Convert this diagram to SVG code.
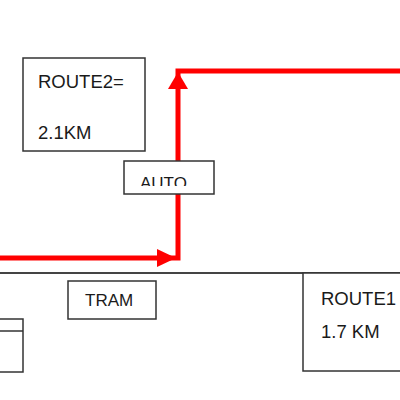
<svg xmlns="http://www.w3.org/2000/svg" width="400" height="400" viewBox="0 0 400 400">
<style>
.box{fill:#fff;stroke:#333;stroke-width:1.5}
.t{font-family:"Liberation Sans",Arial,sans-serif;font-size:17px;fill:#1a1a1a}
.big{font-size:18.5px}
.red{fill:none;stroke:#f00;stroke-width:5;stroke-linejoin:miter}
.ah{fill:#f00}
</style>
<defs>
<clipPath id="autoclip"><rect x="124" y="161" width="90" height="25"/></clipPath>
</defs>
<rect width="400" height="400" fill="#fff"/>
<g id="connectors">
<polyline class="red" points="0,258 178,258 178,71 400,71"/>
<polygon class="ah" points="176,258 157,249 157,267"/>
<polygon class="ah" points="178,72 168,89 188,89"/>
<line x1="0" y1="273" x2="400" y2="273" stroke="#444" stroke-width="2"/>
</g>
<g id="route2">
<rect class="box" x="23" y="58" width="122" height="93"/>
<text class="t big" x="38" y="88">ROUTE2=</text>
<text class="t big" x="38" y="139">2.1KM</text>
</g>
<g id="auto">
<rect class="box" x="124" y="161" width="90" height="33"/>
<text class="t" x="140" y="188.5" clip-path="url(#autoclip)">AUTO</text>
</g>
<g id="tram">
<rect class="box" x="68" y="281" width="88" height="38"/>
<text class="t" x="85" y="306">TRAM</text>
</g>
<g id="route1">
<rect class="box" x="303" y="273" width="110" height="98"/>
<text class="t big" x="321" y="305">ROUTE1</text>
<text class="t big" x="321" y="338">1.7 KM</text>
</g>
<g id="smallbox">
<rect class="box" x="-10" y="319" width="33" height="53"/>
<line x1="0" y1="331" x2="23" y2="331" stroke="#333" stroke-width="1.5"/>
</g>
</svg>
